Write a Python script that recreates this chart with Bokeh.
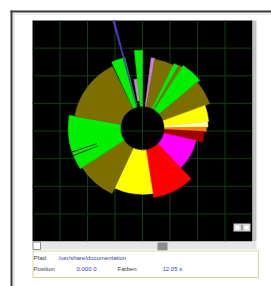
import math
from bokeh.plotting import figure
from bokeh.models import ColumnDataSource, Range1d
from bokeh.core.properties import value
from bokeh.embed import file_html
from bokeh.resources import INLINE

# ---- data: ring segments (degrees clockwise from north), radii in chart units ----
seg_start = [7, 10, 26, 30, 33, 50, 70, 84, 89, 93, 103, 136, 171, 205, 237, 280, 335, 344.5, 350, 354]
seg_end   = [10, 26, 30, 33, 50, 70, 84, 89, 93, 103, 136, 171, 205, 237, 280, 334, 346, 345.5, 354, 360]
seg_inner = [0.8, 0.8, 0.8, 0.8, 0.8, 0.8, 0.8, 0.8, 0.8, 0.8, 0.8, 0.8, 0.8, 0.8, 0.8, 0.8, 0.8, 0.8, 1.0, 0.8]
seg_outer = [2.58, 2.55, 2.62, 2.65, 2.72, 2.6, 2.42, 2.38, 2.32, 2.25, 2.0, 2.55, 2.4, 2.62, 2.7, 2.5, 2.65, 4.05, 1.8, 2.84]
seg_type  = ["link", "dir", "text", "dir", "text", "dir", "image", "doc", "archive", "binary", "video",
             "audio", "image", "dir", "text", "dir", "text", "special", "link", "text"]

# thin gaps inside the green sector
gap_start = [248.0, 251.0]
gap_end   = [248.8, 251.8]
gap_inner = [1.75, 1.75]
gap_outer = [2.7, 2.7]

type_colors = {"dir": "#7c6f00", "text": "#00f000", "image": "#ffff00", "doc": "#ffff9a",
               "archive": "#ff8000", "binary": "#a00000", "video": "#ff00ff", "audio": "#ff0000",
               "link": "#d080d0", "special": "#4a3ab8"}

grid_ticks = [-3, -2, -1, 0, 1, 2, 3]
center_x, center_y = 0.0, 0.1

info_labels = ["Pfad:", "Position", "Farben"]
info_values = ["/usr/share/documentation", "0.000 0", "12.05 s"]

# ---- layout constants (page pixels) ----
W, H = 271, 286
PL, PR, PT, PB = 32, 252, 20, 241      # black plot area

# ---- figure: default ranges are page pixels (for window chrome); "chart" ranges for the ring ----
p = figure(width=W, height=H, output_backend="svg", toolbar_location=None,
           x_range=Range1d(0, W), y_range=Range1d(H, 0),
           min_border=0, min_border_left=0, min_border_right=0, min_border_top=0, min_border_bottom=0)
p.axis.visible = False
p.grid.visible = False
p.outline_line_color = None
p.background_fill_color = "white"
p.border_fill_color = "white"

ux = 8.0 / (PR - PL)
uy = 8.0 / (PB - PT)
p.extra_x_ranges = {"cx": Range1d(-4 - PL * ux, 4 + (W - PR) * ux)}
p.extra_y_ranges = {"cy": Range1d(-4 - (H - PB) * uy, 4 + PT * uy)}

def quad(l, r, t, b, fill, line=None, lw=1):
    p.quad(left=l, right=r, top=t, bottom=b, fill_color=fill, line_color=line, line_width=lw)

# window frame lines
quad(10, W, 10, 12, "#3a3a3a")
quad(10, 12, 10, H, "#3a3a3a")
quad(13, 14, 13, H, "#cfcfcf")
quad(13, W, 13, 14, "#e2e2e2")

# plot area
quad(PL, PR, PT, PB, "black")

# grid
p.segment(x0=grid_ticks, x1=grid_ticks, y0=[-4] * 7, y1=[4] * 7, line_color="#143c14", line_width=1,
          x_range_name="cx", y_range_name="cy")
p.segment(x0=[-4] * 7, x1=[4] * 7, y0=grid_ticks, y1=grid_ticks, line_color="#143c14", line_width=1,
          x_range_name="cx", y_range_name="cy")

def to_bokeh(a):
    return math.radians(90 - a)

src = ColumnDataSource(dict(
    x=[center_x] * len(seg_start), y=[center_y] * len(seg_start),
    inner=seg_inner, outer=seg_outer,
    start=[to_bokeh(e) for e in seg_end], end=[to_bokeh(s) for s in seg_start],
    color=[type_colors[t] for t in seg_type]))
p.annular_wedge(x="x", y="y", inner_radius="inner", outer_radius="outer",
                start_angle="start", end_angle="end", direction="anticlock",
                fill_color="color", line_color="color", line_width=0.5, source=src,
                x_range_name="cx", y_range_name="cy")

gsrc = ColumnDataSource(dict(
    x=[center_x] * len(gap_start), y=[center_y] * len(gap_start),
    inner=gap_inner, outer=gap_outer,
    start=[to_bokeh(e) for e in gap_end], end=[to_bokeh(s) for s in gap_start]))
p.annular_wedge(x="x", y="y", inner_radius="inner", outer_radius="outer",
                start_angle="start", end_angle="end", direction="anticlock",
                fill_color="#0a2a0a", line_color=None, source=gsrc,
                x_range_name="cx", y_range_name="cy")

# right strip, scroll bar, zoom buttons
quad(PR, PR + 4, PT, PB, "#c4c4c4")
quad(PL, PR + 4, PB, PB + 8, "#e6e6e6")
quad(PL + 0.5, PL + 8, PB + 0.5, PB + 8, "#ffffff", "#909090")
quad(157, 167, PB + 1, PB + 9, "#8c8c8c")
quad(233, 250, 223, 231, "#d4d4d4")
quad(241, 242, 224, 230, "#707070")
quad(235, 239, 225, 229, "#ffffff")
quad(244, 248, 225, 229, "#ffffff")

# info panel
quad(PL + 0.5, 258, PB + 9.5, 277, "#ffffff", "#d8d2a8")

tx = [33, 58, 33, 76, 117, 162]
ty = [257, 257, 268, 268, 268, 268]
tt = [info_labels[0], info_values[0], info_labels[1], info_values[1], info_labels[2], info_values[2]]
tc = ["#404040", "#3040c0", "#404040", "#3040c0", "#404040", "#3040c0"]
p.text(x=tx, y=ty, text=tt, text_color=tc, text_font=value("Liberation Sans"),
       text_font_size="6px", text_baseline="middle", text_align="left")

open("out.html", "w").write(file_html(p, INLINE))
